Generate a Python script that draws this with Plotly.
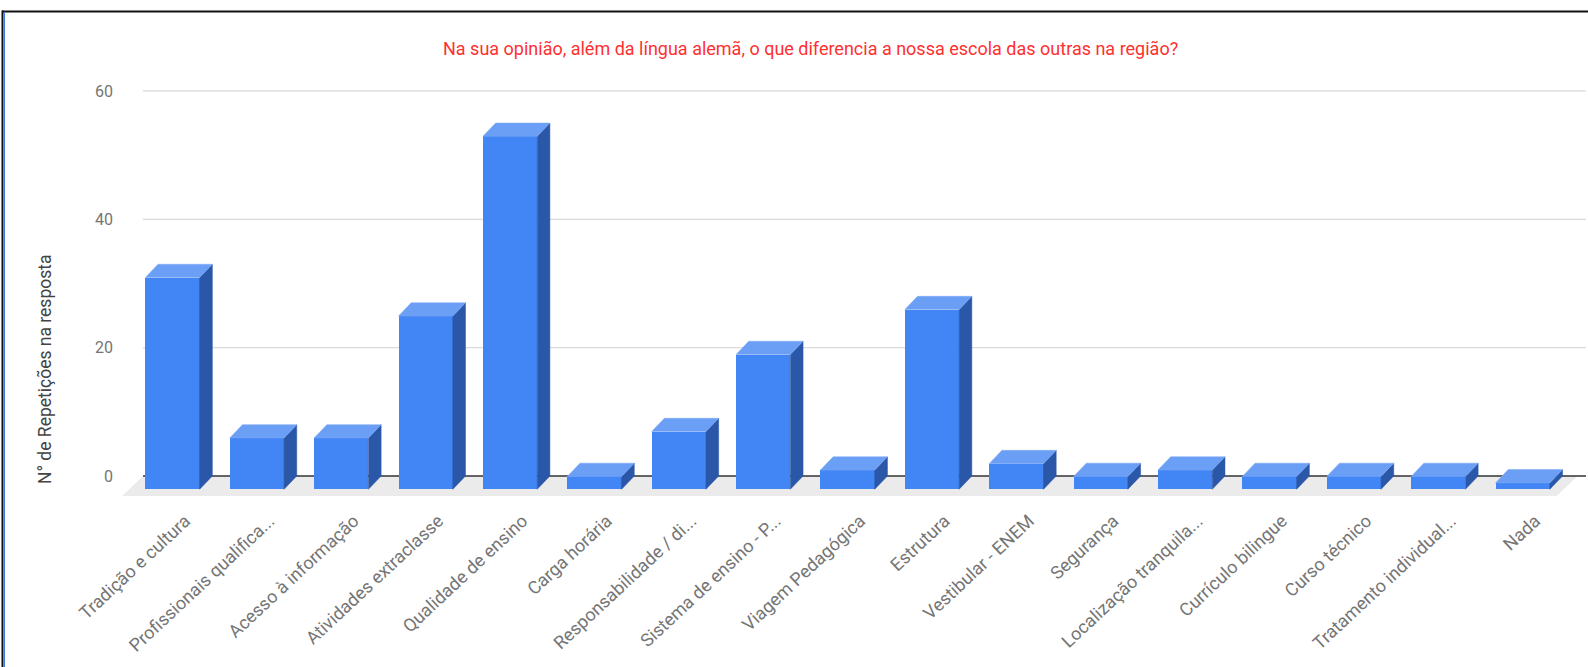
import plotly.graph_objects as go

categories = ["Tradição e cultura", "Profissionais qualifica...", "Acesso à informação",
              "Atividades extraclasse", "Qualidade de ensino", "Carga horária",
              "Responsabilidade / di...", "Sistema de ensino - P...", "Viagem Pedagógica",
              "Estrutura", "Vestibular - ENEM", "Segurança", "Localização tranquila...",
              "Currículo bilingue", "Curso técnico", "Tratamento individual...", "Nada"]
values = [33, 8, 8, 27, 55, 2, 9, 21, 3, 28, 4, 2, 3, 2, 2, 2, 1]
y_ticks = [0, 20, 40, 60]

title_text = "Na sua opinião, além da língua alemã, o que diferencia a nossa escola das outras na região?"
y_title = "N° de Repetições na resposta"

# figure geometry (pixels)
W_FIG, H_FIG = 1588, 667
L, R, T, B = 122, 2, 80, 167
PW, PH = W_FIG - L - R, H_FIG - T - B
X_RANGE = [-0.749, 16.6]
Y_RANGE = [-3.74, 61.71]
pxx = PW / (X_RANGE[1] - X_RANGE[0])
pxy = PH / (Y_RANGE[1] - Y_RANGE[0])

# 3D depth in data units
DX = 12.7 / pxx
DY = 13.3 / pxy
BW = 54.3 / pxx
FDX = 21 / pxx
FDY = 20 / pxy

FRONT = "#4285f4"
TOP = "#6b9ff6"
SIDE = "#2b57a8"

xs = list(range(len(categories)))

top_x, top_y, side_x, side_y = [], [], [], []
for i, v in zip(xs, values):
    fl = i - DX - BW / 2
    fr = i - DX + BW / 2
    top_x += [fl, fr, i + BW / 2, i - BW / 2, fl, None]
    top_y += [v - DY, v - DY, v, v, v - DY, None]
    side_x += [fr, i + BW / 2, i + BW / 2, fr, fr, None]
    side_y += [v - DY, v, 0, -DY, v - DY, None]

fig = go.Figure()

fig.add_trace(go.Bar(
    x=[i - DX for i in xs], y=values, base=[-DY] * len(values), width=BW,
    marker=dict(color=FRONT, line=dict(width=0)), hoverinfo="skip", showlegend=False))
fig.add_trace(go.Scatter(
    x=side_x, y=side_y, mode="lines", fill="toself", fillcolor=SIDE,
    line=dict(color=SIDE, width=0.5), hoverinfo="skip", showlegend=False))
fig.add_trace(go.Scatter(
    x=top_x, y=top_y, mode="lines", fill="toself", fillcolor=TOP,
    line=dict(color="#7aa9f7", width=0.5), hoverinfo="skip", showlegend=False))

shapes = []
n = len(categories)
# floor
x0b, x1b = -0.5, n - 0.5
shapes.append(dict(type="path", xref="x", yref="y", layer="below",
                   path=f"M {x0b},0 L {x1b},0 L {x1b - FDX},{-FDY} L {x0b - FDX},{-FDY} Z",
                   fillcolor="#ebebeb", line=dict(width=0)))
# gridlines on back wall
for t in y_ticks:
    shapes.append(dict(type="line", xref="x", yref="y", layer="below",
                       x0=-0.5, x1=X_RANGE[1], y0=t, y1=t,
                       line=dict(color="#333333" if t == 0 else "#dadada", width=1.3)))

def px2paper_x(p):
    return (p - L) / PW

def px2paper_y(p):
    return (H_FIG - B - p) / PH

# frame borders
shapes.append(dict(type="line", xref="paper", yref="paper",
                   x0=px2paper_x(2), x1=px2paper_x(1588), y0=px2paper_y(11.5), y1=px2paper_y(11.5),
                   line=dict(color="#111111", width=2)))
shapes.append(dict(type="line", xref="paper", yref="paper",
                   x0=px2paper_x(2.5), x1=px2paper_x(2.5), y0=px2paper_y(10.5), y1=px2paper_y(667),
                   line=dict(color="#111111", width=2)))
shapes.append(dict(type="line", xref="paper", yref="paper",
                   x0=px2paper_x(4.5), x1=px2paper_x(4.5), y0=px2paper_y(12.5), y1=px2paper_y(667),
                   line=dict(color="#3b78d8", width=1)))

annotations = [
    dict(text=title_text, xref="paper", yref="paper", x=px2paper_x(810), y=px2paper_y(48),
         xanchor="center", yanchor="middle", showarrow=False,
         font=dict(family="Roboto", size=18, color="#ff3030")),
    dict(text=y_title, xref="paper", yref="paper", x=px2paper_x(45), y=px2paper_y(370),
         xanchor="center", yanchor="middle", showarrow=False, textangle=-90,
         font=dict(family="Roboto", size=17.5, color="#444444")),
]

fig.update_layout(
    width=W_FIG, height=H_FIG,
    margin=dict(l=L, r=R, t=T, b=B, autoexpand=False),
    paper_bgcolor="white", plot_bgcolor="white",
    font=dict(family="Roboto", color="#757575"),
    shapes=shapes, annotations=annotations, showlegend=False,
    bargap=0,
)
fig.update_xaxes(range=X_RANGE, tickmode="array", tickvals=xs, ticktext=categories,
                 tickangle=-43, showgrid=False, zeroline=False, showline=False,
                 ticks="", ticklabelstandoff=6, tickfont=dict(size=18, color="#757575"),
                 fixedrange=True)
fig.update_yaxes(range=Y_RANGE, tickmode="array", tickvals=y_ticks,
                 showgrid=False, zeroline=False, showline=False, ticks="",
                 ticklabelstandoff=8, tickfont=dict(size=16, color="#757575"),
                 fixedrange=True)

fig.write_html("out.html")
